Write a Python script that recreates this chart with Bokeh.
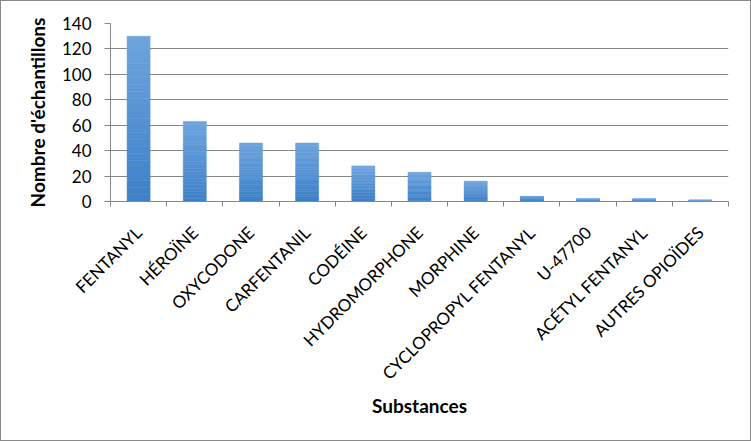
from math import pi
from bokeh.plotting import figure
from bokeh.models import Range1d, FixedTicker, ColumnDataSource
from bokeh.embed import file_html
from bokeh.resources import INLINE

substances = ["FENTANYL", "HÉROÏNE", "OXYCODONE", "CARFENTANIL", "CODÉINE",
              "HYDROMORPHONE", "MORPHINE", "CYCLOPROPYL FENTANYL", "U-47700",
              "ACÉTYL FENTANYL", "AUTRES OPIOÏDES"]
counts = [130, 63, 46, 46, 28, 23, 16, 4, 2, 2, 1]
y_ticks = [0, 20, 40, 60, 80, 100, 120, 140]

FONT = "Lato"
GRAY = "#868686"

p = figure(width=749, height=439, output_backend="svg", toolbar_location=None,
           x_range=Range1d(0.5, len(substances) + 0.5), y_range=Range1d(0, 140),
           frame_width=618, frame_height=178, min_border_left=109, min_border_top=22,
           min_border_right=22, min_border_bottom=239)
p.styles = {"border": "1px solid #898989"}

# gradient bars: bands from dark (bottom) to light (top)
N = 24
dark = (0x3d, 0x80, 0xc8)
light = (0x6e, 0xa4, 0xdd)
xs, bots, tops, cols = [], [], [], []
for i, v in enumerate(counts):
    for k in range(N):
        t = (k + 0.5) / N
        c = tuple(int(round(dark[j] + (light[j] - dark[j]) * t)) for j in range(3))
        xs.append(i + 1)
        bots.append(v * k / N)
        tops.append(v * (k + 1) / N)
        cols.append("#%02x%02x%02x" % c)
src = ColumnDataSource(dict(x=xs, bottom=bots, top=tops, color=cols))
p.vbar(x="x", bottom="bottom", top="top", width=0.41, fill_color="color",
       line_color="color", line_width=0.5, source=src)

# x axis
xa = p.xaxis[0]
xa.ticker = FixedTicker(ticks=list(range(1, len(substances) + 1)),
                        minor_ticks=[i + 0.5 for i in range(len(substances) + 1)])
xa.major_label_overrides = {i + 1: s for i, s in enumerate(substances)}
xa.major_label_orientation = pi / 4
xa.major_tick_line_color = None
xa.minor_tick_line_color = GRAY
xa.minor_tick_out = 5
xa.minor_tick_in = 0
xa.axis_line_color = GRAY
xa.major_label_text_font = FONT
xa.major_label_text_font_size = "17px"
xa.major_label_text_color = "black"
xa.major_label_standoff = 22
xa.axis_label = "Substances"
xa.axis_label_text_font = FONT
xa.axis_label_text_font_style = "bold"
xa.axis_label_text_font_size = "19px"
xa.axis_label_text_color = "black"
xa.axis_label_standoff = 0

# y axis
ya = p.yaxis[0]
ya.ticker = FixedTicker(ticks=y_ticks)
ya.axis_line_color = GRAY
ya.major_tick_line_color = GRAY
ya.major_tick_out = 6
ya.major_tick_in = 0
ya.minor_tick_line_color = None
ya.major_label_text_font = FONT
ya.major_label_text_font_size = "17px"
ya.major_label_text_color = "black"
ya.major_label_standoff = 13
ya.axis_label = "Nombre d'échantillons"
ya.axis_label_text_font = FONT
ya.axis_label_text_font_style = "bold"
ya.axis_label_text_font_size = "19px"
ya.axis_label_text_color = "black"
ya.axis_label_standoff = 10

p.xgrid.grid_line_color = None
p.ygrid.ticker = FixedTicker(ticks=y_ticks)
p.ygrid.grid_line_color = GRAY
p.outline_line_color = None

open("out.html", "w").write(file_html(p, INLINE))
